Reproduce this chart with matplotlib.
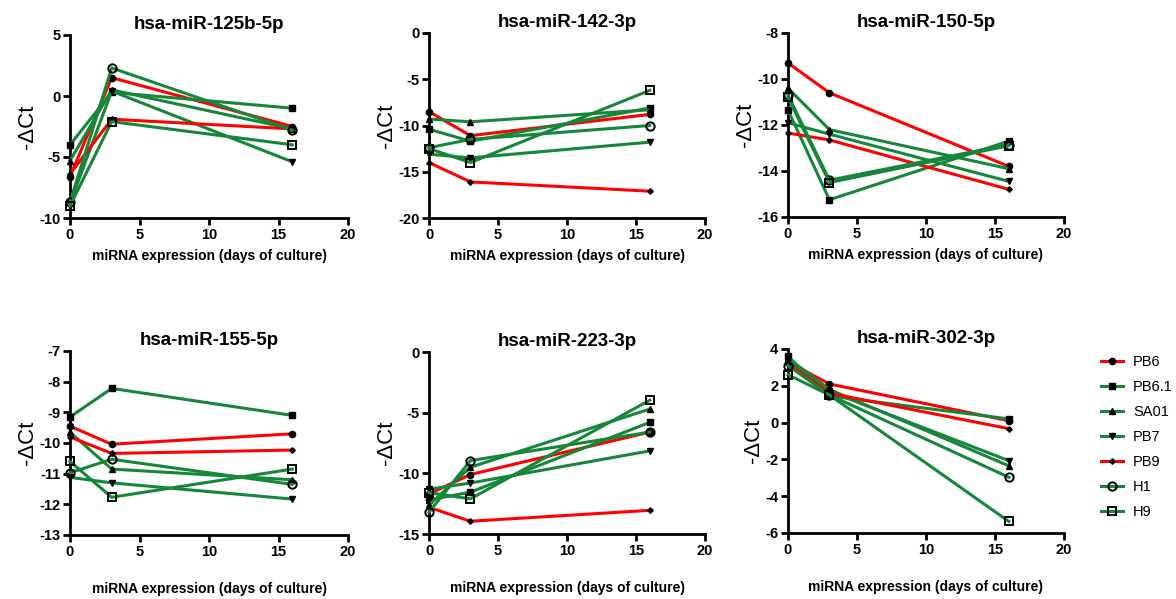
import numpy as np
import matplotlib
matplotlib.use("Agg")
import matplotlib.pyplot as plt
from matplotlib.lines import Line2D

# =============================================================================
# DATA
# =============================================================================

days = [0, 3, 16]
lines = ["PB6", "PB6.1", "SA01", "PB7", "PB9", "H1", "H9"]

titles = ["hsa-miR-125b-5p", "hsa-miR-142-3p", "hsa-miR-150-5p",
          "hsa-miR-155-5p", "hsa-miR-223-3p", "hsa-miR-302-3p"]

mir125b = {"PB6": [-6.6, 1.5, -2.5], "PB6.1": [-4.0, 0.3, -1.0],
           "SA01": [-5.3, 0.5, -2.7], "PB7": [-8.8, 0.4, -5.4],
           "PB9": [-6.4, -1.9, -2.7], "H1": [-8.7, 2.3, -2.8],
           "H9": [-9.0, -2.1, -4.0]}
mir142 = {"PB6": [-8.5, -11.1, -8.8], "PB6.1": [-10.4, -11.7, -8.1],
          "SA01": [-9.3, -9.6, -8.3], "PB7": [-13.1, -13.5, -11.8],
          "PB9": [-14.0, -16.1, -17.1], "H1": [-12.4, -11.5, -10.0],
          "H9": [-12.5, -14.0, -6.2]}
mir150 = {"PB6": [-9.3, -10.6, -13.8], "PB6.1": [-11.35, -15.25, -12.7],
          "SA01": [-10.4, -12.2, -13.9], "PB7": [-11.9, -12.4, -14.45],
          "PB9": [-12.35, -12.65, -14.8], "H1": [-10.7, -14.4, -12.85],
          "H9": [-10.8, -14.5, -12.9]}
mir155 = {"PB6": [-9.45, -10.04, -9.7], "PB6.1": [-9.15, -8.22, -9.1],
          "SA01": [-9.65, -10.85, -11.2], "PB7": [-11.12, -11.3, -11.83],
          "PB9": [-9.8, -10.34, -10.23], "H1": [-10.97, -10.53, -11.35],
          "H9": [-10.6, -11.77, -10.85]}
mir223 = {"PB6": [-11.7, -10.1, -6.6], "PB6.1": [-12.2, -11.55, -5.8],
          "SA01": [-12.6, -9.5, -4.7], "PB7": [-11.3, -10.8, -8.15],
          "PB9": [-12.8, -13.95, -13.05], "H1": [-13.2, -8.95, -6.6],
          "H9": [-11.6, -12.1, -3.97]}
mir302 = {"PB6": [3.3, 2.1, 0.1], "PB6.1": [3.6, 1.45, 0.2],
          "SA01": [3.5, 1.8, -2.35], "PB7": [3.4, 1.7, -2.07],
          "PB9": [3.2, 1.6, -0.33], "H1": [3.1, 1.5, -2.97],
          "H9": [2.6, 1.5, -5.37]}

panels = [mir125b, mir142, mir150, mir155, mir223, mir302]
ylims = [(-10, 5), (-20, 0), (-16, -8), (-13, -7), (-15, 0), (-6, 4)]
ysteps = [5, 5, 2, 1, 5, 2]

# =============================================================================
# STYLE
# =============================================================================

RED = "#ff0000"
GREEN = "#16873a"
style = {
    "PB6": dict(color=RED, marker="o", ms=4.5, mfc="black", mec="black"),
    "PB6.1": dict(color=GREEN, marker="s", ms=4.5, mfc="black", mec="black"),
    "SA01": dict(color=GREEN, marker="^", ms=4.5, mfc="black", mec="black"),
    "PB7": dict(color=GREEN, marker="v", ms=4.5, mfc="black", mec="black"),
    "PB9": dict(color=RED, marker="D", ms=2.8, mfc="black", mec="black"),
    "H1": dict(color=GREEN, marker="o", ms=6, mfc="none", mec="black", mew=1.4),
    "H9": dict(color=GREEN, marker="s", ms=6, mfc="none", mec="black", mew=1.4),
}

plt.rcParams["font.family"] = ["Liberation Sans", "DejaVu Sans"]
plt.rcParams["axes.unicode_minus"] = False

fig = plt.figure(figsize=(11.76, 5.99), dpi=100)
W, H = 1176, 599

# pixel boxes: left, right, top, bottom
boxes = [(70, 348, 35, 218), (429, 705, 33, 218), (788, 1064, 33, 217),
         (70, 348, 351, 535), (429, 705, 352, 534), (788, 1064, 349, 533)]

for i, data in enumerate(panels):
    l, r, t, b = boxes[i]
    ax = fig.add_axes([l / W, 1 - b / H, (r - l) / W, (b - t) / H])
    for name in lines:
        ax.plot(days, data[name], lw=2.2, clip_on=False, zorder=3, **style[name])
    ax.set_xlim(0, 20)
    ax.set_ylim(*ylims[i])
    ax.set_xticks([0, 5, 10, 15, 20])
    ax.set_yticks(np.arange(ylims[i][0], ylims[i][1] + 0.1, ysteps[i]))
    for s in ["top", "right"]:
        ax.spines[s].set_visible(False)
    for s in ["left", "bottom"]:
        ax.spines[s].set_linewidth(2)
    ax.tick_params(width=2, length=5, labelsize=10.5, pad=2)
    for lab in ax.get_xticklabels() + ax.get_yticklabels():
        lab.set_fontweight("bold")
    ax.set_title(titles[i], fontsize=13.5, fontweight="bold", pad=4)
    ax.set_xlabel("miRNA expression (days of culture)", fontsize=10,
                  fontweight="bold", labelpad=5 if i < 3 else 17)
    ax.set_ylabel("-ΔCt", fontsize=16, labelpad=1)

handles = [Line2D([], [], lw=2.2, **style[n]) for n in lines]
fig.legend(handles, lines, loc="upper left", bbox_to_anchor=(1095 / W, 1 - 349 / H),
           frameon=False, fontsize=10.5, handlelength=1.5, labelspacing=0.76,
           handletextpad=0.7, borderaxespad=0)

fig.savefig("out.png", dpi=100)
